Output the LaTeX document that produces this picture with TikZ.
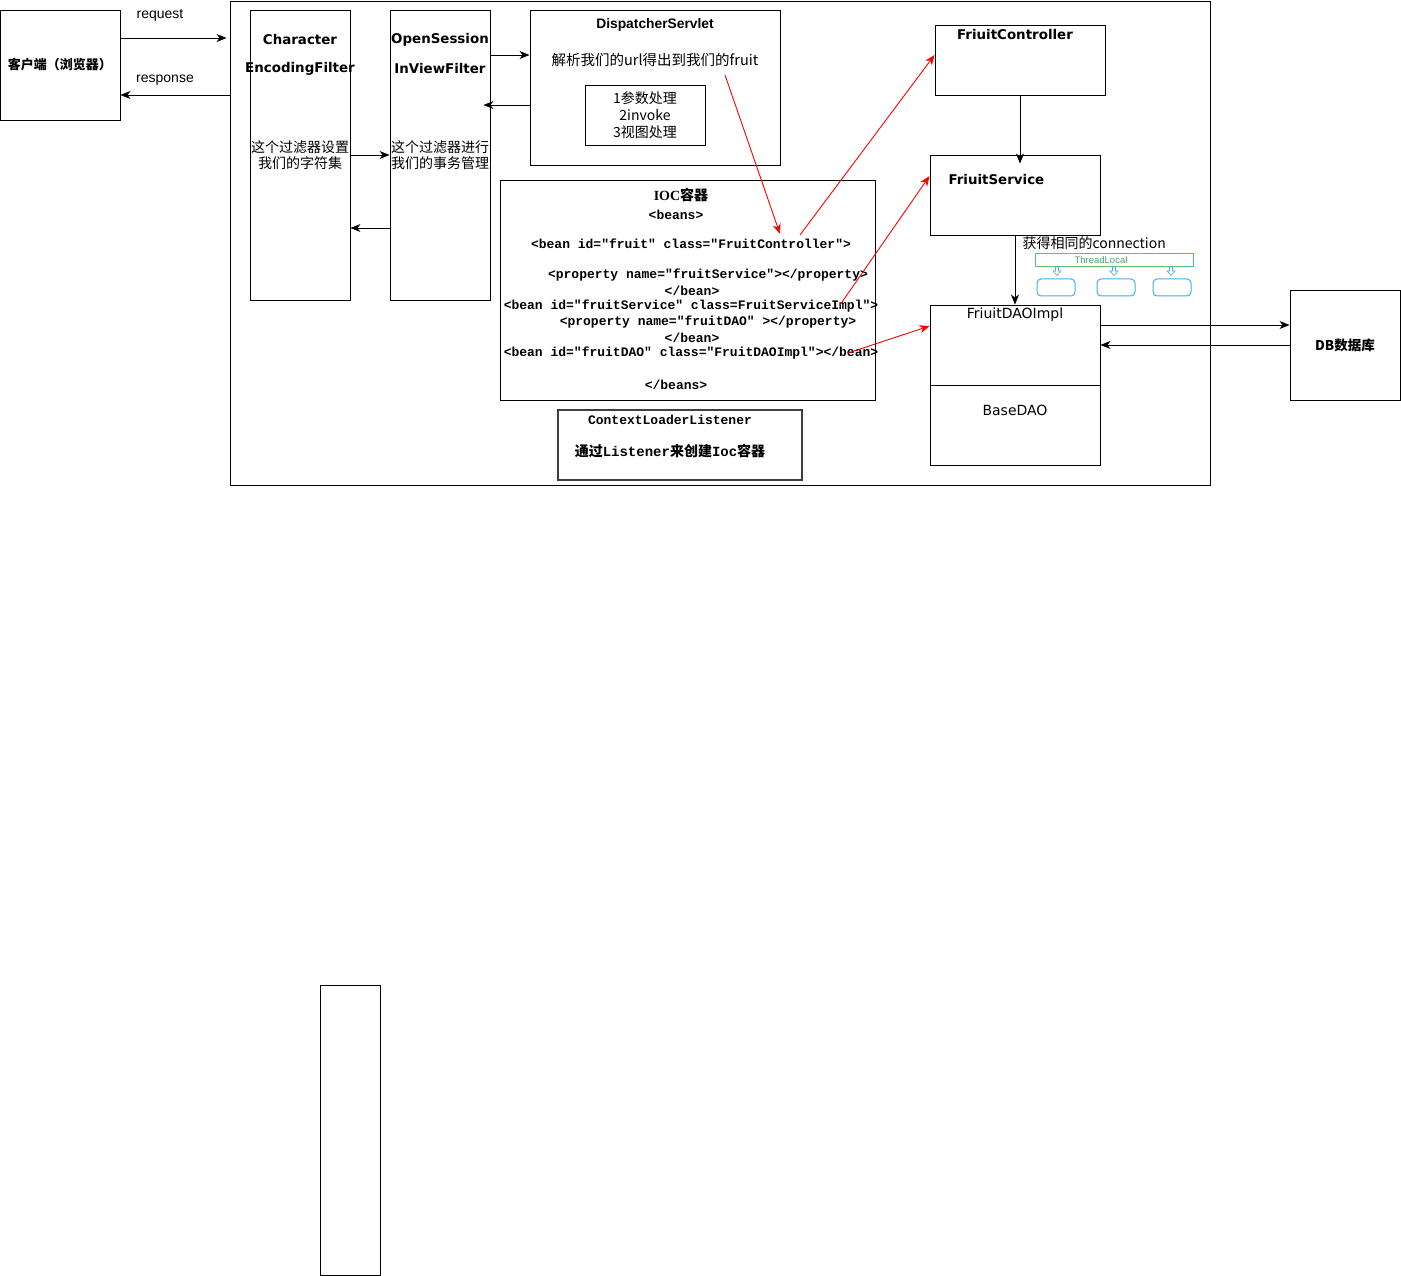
\documentclass[tikz,border=0pt]{standalone}
\usepackage{fontspec}
\setmainfont{Liberation Sans}
\newfontfamily\cjk{Noto Sans CJK SC}
\newfontfamily\dvs{DejaVu Sans}
\newfontfamily\mono{Liberation Mono}
\newfontfamily\seriffont{Liberation Serif}
\usepackage{tikz}
\usetikzlibrary{positioning,arrows.meta,calc}
\definecolor{tlgreen}{RGB}{88,196,118}
\definecolor{tlblue}{RGB}{70,172,230}

\begin{document}
\begin{tikzpicture}[x=1pt,y=-1pt,>={Stealth[length=10pt,width=8pt,inset=3pt]},
	box/.style={draw,line width=0.9pt,inner sep=0pt},
	link/.style={->,line width=0.9pt},
	ttl/.style={font=\dvs\bfseries\fontsize{13.4}{15}\selectfont},
	zh/.style={font=\cjk\fontsize{14}{16}\selectfont,align=center},
	lbl/.style={font=\fontsize{14}{16}\selectfont},
	dtxt/.style={font=\dvs\fontsize{14}{16}\selectfont},
	xml/.style={font=\mono\bfseries\fontsize{13}{15}\selectfont},
	redline/.style={->,draw=red,line width=0.9pt},
	conn/.style={draw=tlblue,line width=1pt,rounded corners=4pt,minimum width=38pt,minimum height=17pt,inner sep=0pt}]
			
			\useasboundingbox (0,0) rectangle (1401,1276);
			
			\node[box,minimum width=980pt,minimum height=484pt] (outer) at (720,243) {};
			\node[box,minimum width=120pt,minimum height=110pt,font=\cjk\bfseries\fontsize{13}{15}\selectfont] (client) at (60,65) {客户端（浏览器）};
			
			\node[box,minimum width=100pt,minimum height=290pt] (charf) at (300,155) {};
			\node[box,minimum width=100pt,minimum height=290pt] (osiv) at (440,155) {};
			\node[box,minimum width=250pt,minimum height=155pt] (disp) at (655,87.5) {};
			\node[box,minimum width=120pt,minimum height=60pt,zh,font=\cjk\fontsize{14}{17}\selectfont] (steps) at (645,115) {1参数处理\\2invoke\\3视图处理};
			\node[box,minimum width=375pt,minimum height=220pt] (ioc) at (687.5,290) {};
			\node[box,minimum width=244pt,minimum height=70pt,draw=black!75,line width=1.3pt] (ctxl) at (680,445) {};
			
			\node[box,minimum width=170pt,minimum height=70pt] (ctrl) at (1020,60) {};
			\node[box,minimum width=170pt,minimum height=80pt] (svc) at (1015,195) {};
			\node[box,minimum width=170pt,minimum height=80pt] (dao) at (1015,345) {};
			\node[box,minimum width=170pt,minimum height=80pt] (base) at (1015,425) {};
			\node[box,minimum width=110pt,minimum height=110pt,font=\cjk\bfseries\fontsize{13.5}{15}\selectfont] (db) at (1345,345) {DB数据库};
			
			\node[box,minimum width=60pt,minimum height=290pt] (lone) at (350,1130) {};
			
			\node[lbl] (reqlbl) at (160,15) {request};
			\node[lbl] (reslbl) at (165,80) {response};
			
			\node[ttl] (charf1) at (300,40) {Character};
			\node[ttl] (charf2) at (300,69) {EncodingFilter};
			\node[zh] (charf3) at (300,155) {这个过滤器设置\\我们的字符集};
			\node[ttl] (osiv1) at (440,40) {OpenSession};
			\node[ttl] (osiv2) at (440,69) {InViewFilter};
			\node[zh] (osiv3) at (440,155) {这个过滤器进行\\我们的事务管理};
			
			\node[font=\bfseries\fontsize{13.8}{15}\selectfont] (disp1) at (655,25) {DispatcherServlet};
			\node[zh,font=\cjk\fontsize{14.5}{16}\selectfont] (disp2) at (655,60) {解析我们的url得出到我们的fruit};
			
			\node[font=\seriffont\bfseries\fontsize{14}{16}\selectfont] (ioc0) at (681,195) {IOC{\cjk\bfseries 容器}};
			\node[xml] (ioc1) at (676,215) {<beans>};
			\node[xml] (ioc2) at (691,244) {<bean id="fruit" class="FruitController">};
			\node[xml] (ioc3) at (708,275) {<property name="fruitService"></property>};
			\node[xml] (ioc4) at (692,291) {</bean>};
			\node[xml] (ioc5) at (691,306) {<bean id="fruitService" class=FruitServiceImpl">};
			\node[xml] (ioc6) at (708,322) {<property name="fruitDAO" ></property>};
			\node[xml] (ioc7) at (692,338) {</bean>};
			\node[xml] (ioc8) at (691,353) {<bean id="fruitDAO" class="FruitDAOImpl"></bean>};
			\node[xml] (ioc9) at (676,385) {</beans>};
			
			\node[xml] (ctxl1) at (670,420) {ContextLoaderListener};
			\node[font=\bfseries\fontsize{14}{16}\selectfont] (ctxl2) at (670,451) {{\cjk 通过}{\mono Listener}{\cjk 来创建}{\mono Ioc}{\cjk 容器}};
			
			\node[ttl] (ctrl1) at (1015,35) {FriuitController};
			\node[ttl,anchor=west] (svc1) at (945,180) {FriuitService};
			\node[dtxt] (dao1) at (1015,315) {FriuitDAOImpl};
			\node[dtxt] (base1) at (1015,410) {BaseDAO};
			
			\node[zh,anchor=west] (connlbl) at (1019,243) {获得相同的connection};
			\node[draw=tlgreen,line width=0.8pt,minimum width=158pt,minimum height=13pt,inner sep=0pt] (tl) at (1114,259.5) {};
			\node[text=tlgreen!85!black,font=\fontsize{9.5}{10}\selectfont] (tl1) at (1101,260) {ThreadLocal};
			\foreach \x/\n in {1056/ca,1116/cb,1172/cc}
				\node[conn] (\n) at (\x,287.5) {};
			\foreach \x in {1057,1114,1171}
				\draw[tlblue,line width=0.6pt] (\x-1.5,267) -- (\x+1.5,267) -- (\x+1.5,271) -- (\x+4,271) -- (\x,275.5) -- (\x-4,271) -- (\x-1.5,271) -- cycle;
			
			\draw[link] ([yshift=27pt]client.east) -- ([yshift=27pt,xshift=-3pt]client.east -| outer.west);
			\draw[link] ([yshift=-30pt]client.east -| outer.west) -- ([yshift=-30pt]client.east);
			\draw[link] (charf) -- (osiv);
			\draw[link] ([yshift=-73pt]osiv.west) -- ([yshift=-73pt]charf.east);
			\draw[link] ([yshift=100pt]osiv.east) -- ([yshift=100pt]osiv.east -| disp.west);
			\draw[link] ([yshift=-17.5pt]disp.west) -- ([yshift=-17.5pt,xshift=-7pt]disp.west -| osiv.east);
			\draw[link] (ctrl.south) -- ($(ctrl.south |- svc.north)+(0,9)$);
			\draw[link] (svc) -- (dao);
			\draw[link] ([yshift=20pt]dao.east) -- ([yshift=20pt]dao.east -| db.west);
			\draw[link] (db) -- (dao);
			
			\coordinate (r1a) at (725,75);
			\coordinate (r1b) at (780,234);
			\coordinate (r2a) at (800,235);
			\coordinate (r3a) at (840,305);
			\coordinate (r4a) at (848,353);
			\draw[redline] (r1a) -- (r1b);
			\draw[redline] (r2a) -- ([yshift=5pt]ctrl.west);
			\draw[redline] (r3a) -- ([yshift=19pt]svc.west);
			\draw[redline] (r4a) -- ([yshift=19pt]dao.west);
			
		\end{tikzpicture}
\end{document}
